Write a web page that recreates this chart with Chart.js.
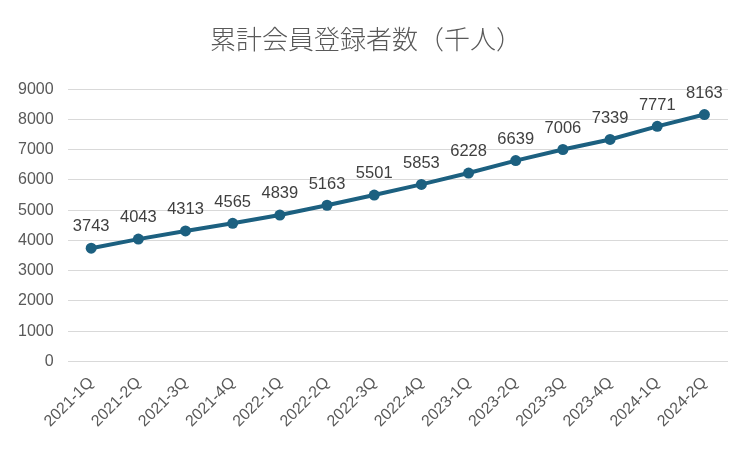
<!DOCTYPE html>
<html>
<head>
<meta charset="utf-8">
<script src="https://cdn.jsdelivr.net/npm/chart.js@4"></script>
<style>
  html, body { margin: 0; padding: 0; background: #fff; }
  #wrap { width: 750px; height: 449px; }
</style>
</head>
<body>
<div id="wrap"><canvas id="myChart"></canvas></div>
<script>
// data
var quarters = ['2021-1Q', '2021-2Q', '2021-3Q', '2021-4Q', '2022-1Q', '2022-2Q', '2022-3Q',
  '2022-4Q', '2023-1Q', '2023-2Q', '2023-3Q', '2023-4Q', '2024-1Q', '2024-2Q'];
var members = [3743, 4043, 4313, 4565, 4839, 5163, 5501, 5853, 6228, 6639, 7006, 7339, 7771, 8163];
var yTicks = [0, 1000, 2000, 3000, 4000, 5000, 6000, 7000, 8000, 9000];

var fontFam = '"Noto Sans CJK JP", "Noto Sans", sans-serif';
var numFont = '"Liberation Sans", Arial, sans-serif';

// values drawn above each point
var pointLabels = {
  id: 'pointLabels',
  afterDatasetsDraw: function(chart) {
    var ctx = chart.ctx;
    var meta = chart.getDatasetMeta(0);
    ctx.save();
    ctx.fillStyle = '#404040';
    ctx.font = '16.5px ' + numFont;
    ctx.textAlign = 'center';
    ctx.textBaseline = 'bottom';
    meta.data.forEach(function(pt, i) {
      ctx.fillText(String(members[i]), pt.x, pt.y - 13);
    });
    ctx.restore();
  }
};

var ctx = document.getElementById('myChart').getContext('2d');
var myChart = new Chart(ctx, {
  type: 'line',
  data: {
    labels: quarters,
    datasets: [{
      label: '累計会員登録者数',
      data: members,
      borderColor: '#1c6080',
      backgroundColor: '#1c6080',
      borderWidth: 4,
      pointRadius: 5.5,
      pointBackgroundColor: '#1c6080',
      pointBorderWidth: 0,
      tension: 0
    }]
  },
  options: {
    responsive: true,
    maintainAspectRatio: false,
    animation: false,
    layout: { padding: { left: 4, right: 22, top: 14, bottom: 14 } },
    plugins: {
      legend: { display: false },
      tooltip: { enabled: false },
      title: {
        display: true,
        text: '累計会員登録者数（千人）',
        color: '#595959',
        font: { family: fontFam, size: 26, weight: '300' },
        padding: { top: 10, bottom: 34 }
      }
    },
    scales: {
      x: {
        offset: true,
        grid: { display: false },
        border: { display: false },
        ticks: {
          color: '#595959',
          font: { family: numFont, size: 16 },
          maxRotation: 45,
          minRotation: 45,
          autoSkip: false,
          padding: 4
        }
      },
      y: {
        min: 0,
        max: 9000,
        afterBuildTicks: function(axis) {
          axis.ticks = yTicks.map(function(v) { return { value: v }; });
        },
        grid: { color: '#d9d9d9', lineWidth: 1, drawTicks: false },
        border: { display: false },
        ticks: {
          color: '#595959',
          font: { family: numFont, size: 16 },
          padding: 14,
          callback: function(v) { return String(v); }
        }
      }
    }
  },
  plugins: [pointLabels]
});
</script>
</body>
</html>
